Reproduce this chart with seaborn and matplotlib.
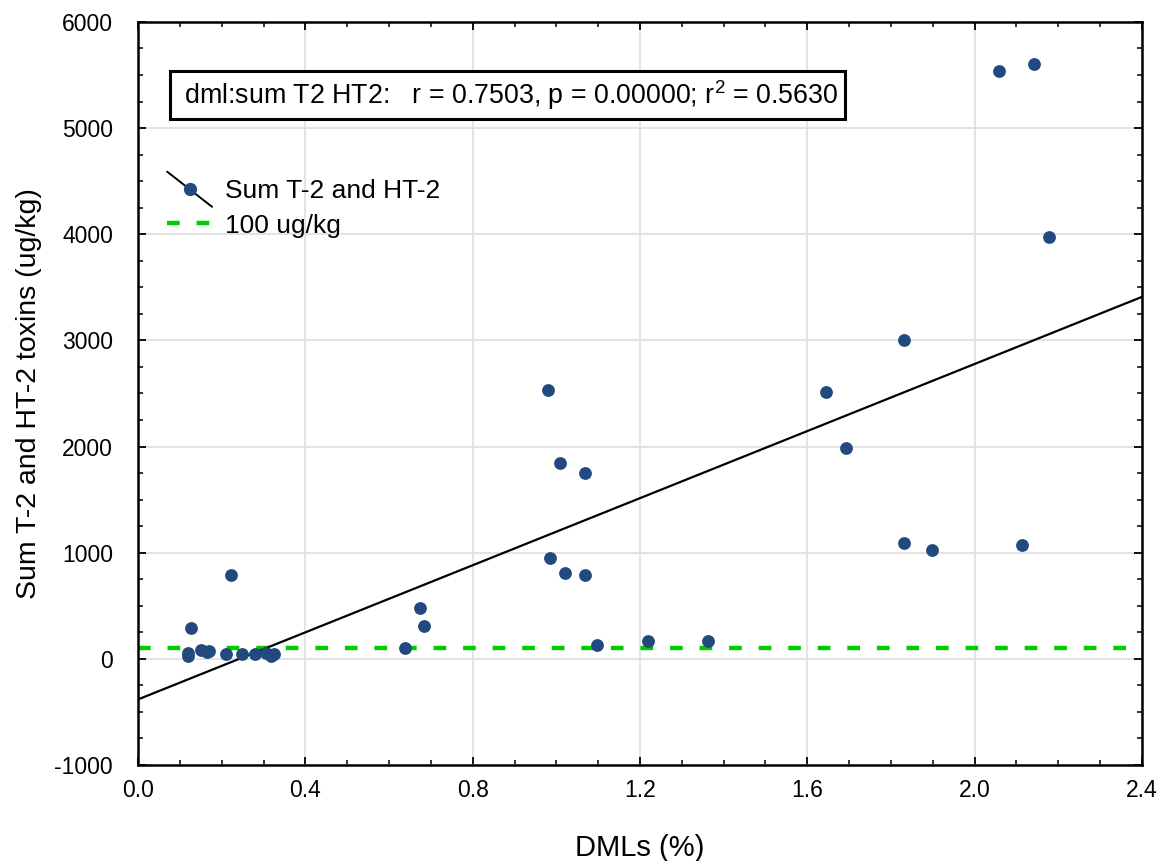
import numpy as np
import pandas as pd
import matplotlib
matplotlib.use("Agg")
import matplotlib.pyplot as plt
import seaborn as sns
from matplotlib.lines import Line2D
from matplotlib.legend_handler import HandlerBase
from matplotlib.ticker import MultipleLocator

# ---- data ----
dml = [0.120, 0.120, 0.126, 0.150, 0.165, 0.170, 0.210, 0.223, 0.248, 0.280,
       0.305, 0.318, 0.326, 0.637, 0.673, 0.684, 0.979, 0.984, 1.008, 1.020,
       1.069, 1.069, 1.098, 1.218, 1.362, 1.645, 1.693, 1.831, 1.831, 1.897,
       2.059, 2.113, 2.143, 2.179]
toxins = [25, 55, 290, 80, 65, 75, 50, 786, 50, 50,
          55, 25, 45, 100, 478, 311, 2531, 950, 1846, 808,
          1752, 786, 126, 170, 170, 2512, 1991, 3007, 1094, 1022,
          5535, 1069, 5607, 3975]
limit_value = 100
x_ticks = [0.0, 0.4, 0.8, 1.2, 1.6, 2.0, 2.4]
y_ticks = [-1000, 0, 1000, 2000, 3000, 4000, 5000, 6000]
annot = " dml:sum T2 HT2:   r = 0.7503, p = 0.00000; r$^{2}$ = 0.5630"
series_label = "Sum T-2 and HT-2"
limit_label = "100 ug/kg"
x_label = "DMLs (%)"
y_label = "Sum T-2 and HT-2 toxins (ug/kg)"

df = pd.DataFrame({"dml": dml, "tox": toxins})

sns.set_theme(style="white")
plt.rcParams["font.family"] = ["Liberation Sans", "DejaVu Sans"]
plt.rcParams["mathtext.fontset"] = "custom"
plt.rcParams["mathtext.rm"] = "Liberation Sans"
plt.rcParams["mathtext.it"] = "Liberation Sans"
plt.rcParams["mathtext.default"] = "regular"
plt.rcParams["text.color"] = "black"
plt.rcParams["axes.labelcolor"] = "black"

fig = plt.figure(figsize=(11.7, 8.61), dpi=100)
ax = fig.add_axes([0.118, 0.1115, 0.858, 0.863])
ax.set_xlim(0, 2.4)
ax.set_ylim(-1000, 6000)

point_color = "#224a7e"
green = "#00cc00"

ax.grid(True, color="#dedede", linewidth=1.2, zorder=0)
ax.set_axisbelow(True)

sns.regplot(data=df, x="dml", y="tox", ax=ax, scatter=False, ci=None,
            truncate=False, line_kws=dict(color="black", linewidth=1.6, zorder=3))
ax.axhline(limit_value, color=green, linewidth=3.2, dashes=(2.85, 3.8), zorder=2)
sns.scatterplot(data=df, x="dml", y="tox", ax=ax, color=point_color, s=85,
                edgecolor=point_color, linewidth=0, zorder=4)

ax.set_xticks(x_ticks)
ax.set_xticklabels([f"{v:.1f}" for v in x_ticks])
ax.set_yticks(y_ticks)
ax.set_yticklabels([str(v) for v in y_ticks])
ax.xaxis.set_minor_locator(MultipleLocator(0.1))
ax.yaxis.set_minor_locator(MultipleLocator(250))
ax.tick_params(which="both", direction="in", top=True, right=True,
               bottom=True, left=True, labelsize=16.5, colors="black")
ax.tick_params(which="major", length=6, width=1.3)
ax.tick_params(which="minor", length=3.5, width=1.1)
ax.tick_params(axis="x", pad=10)
ax.tick_params(axis="y", pad=18)
for sp in ax.spines.values():
    sp.set_color("black")
    sp.set_linewidth(1.8)

ax.set_xlabel(x_label, fontsize=21, labelpad=23)
ax.set_ylabel(y_label, fontsize=20.5, labelpad=9)

ax.text(0.093, 5311, annot, fontsize=19.3, va="center", ha="left",
        bbox=dict(boxstyle="square,pad=0.25", facecolor="white",
                  edgecolor="black", linewidth=2.2), zorder=6)


class DiagHandler(HandlerBase):
    def create_artists(self, legend, orig_handle, xdescent, ydescent,
                       width, height, fontsize, trans):
        l = Line2D([0, width], [height + 6, -6], color="black", linewidth=1.4,
                   transform=trans)
        m = Line2D([width * 0.5], [height * 0.5], marker="o", markersize=8.5,
                   color=point_color, linestyle="none", transform=trans)
        return [l, m]


h1 = Line2D([], [], color="black")
h2 = Line2D([], [], color=green, linewidth=3.2, dashes=(2.85, 3.8))
leg = ax.legend([h1, h2], [series_label, limit_label],
                handler_map={h1: DiagHandler()},
                loc="upper left", bbox_to_anchor=(0.029, 0.788), frameon=False,
                fontsize=19, handlelength=1.7, handletextpad=0.5,
                labelspacing=0.38, borderaxespad=0, borderpad=0)

fig.savefig("out.png", dpi=100)
